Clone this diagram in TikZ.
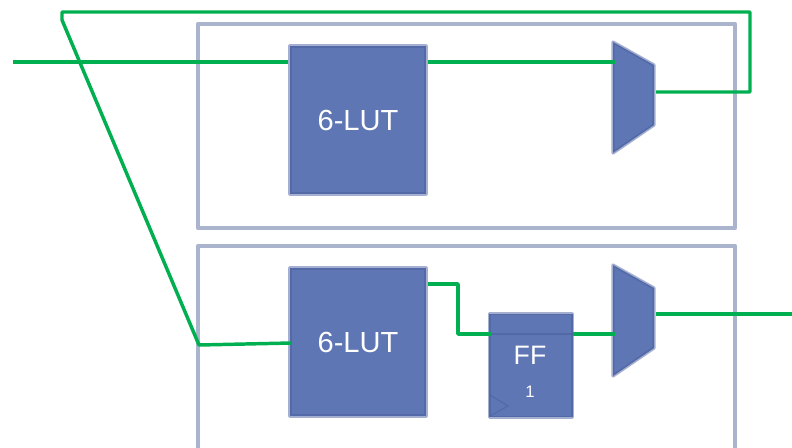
\documentclass[tikz,border=0pt]{standalone}
\usepackage{fontspec}
\setmainfont{Liberation Sans}
\definecolor{frameblue}{HTML}{AAB4CC}
\definecolor{blockfill}{HTML}{5E76B3}
\definecolor{blockedge}{HTML}{4B5F9F}
\definecolor{wire}{HTML}{00B050}
\tikzset{
  frame/.style={draw=frameblue,line width=3.4pt,line join=round},
  block/.style={fill=blockfill,draw=blockedge,draw opacity=.5,line width=2.4pt,line join=round},
  lutbox/.style={block,rectangle,minimum width=102pt,minimum height=111pt,inner sep=0pt,text=white,font=\fontsize{21.8pt}{24pt}\selectfont},
  ffbox/.style={block,rectangle,minimum width=62.5pt,minimum height=77.5pt,inner sep=0pt},
  wireline/.style={draw=wire,line width=2.6pt,line join=round},
  trace/.style={draw=blockedge,draw opacity=.6,line width=.8pt}
}
\begin{document}
\begin{tikzpicture}[x=.75pt,y=-.75pt]
\useasboundingbox (0,0) rectangle (792,447);
% outer frames
\draw[frame] (198,24) rectangle (735,228);
\draw[frame] (198,460) -- (198,246) -- (735,246) -- (735,460);
% blocks
\node[lutbox] (lutA) at (358,120) {6-LUT};
\node[lutbox] (lutB) at (358,342) {6-LUT};
\node[ffbox] (ff) at (531,365.5) {};
\node[text=white,font=\fontsize{20pt}{22pt}\selectfont] (fflabel) at (530,355) {FF};
\node[text=white,font=\fontsize{12.5pt}{14pt}\selectfont] (ffnum) at (530,392) {1};
% clock triangle
\coordinate (clkA) at (490,395);
\coordinate (clkB) at (508,406);
\coordinate (clkC) at (490,416);
\draw[trace] (clkA) -- (clkB) -- (clkC);
% muxes
\coordinate (muxAtl) at (613,42);
\coordinate (muxAtr) at (654,65);
\coordinate (muxAbr) at (654,125);
\coordinate (muxAbl) at (613,153);
\coordinate (muxBtl) at (613,265);
\coordinate (muxBtr) at (654,288);
\coordinate (muxBbr) at (654,348);
\coordinate (muxBbl) at (613,376);
\draw[block] (muxAtl) -- (muxAtr) -- (muxAbr) -- (muxAbl) -- cycle;
\draw[block] (muxBtl) -- (muxBtr) -- (muxBbr) -- (muxBbl) -- cycle;
% wire junctions
\coordinate (inA) at (13,62);
\coordinate (muxAin) at (615,62);
\coordinate (muxAout) at (656,92);
\coordinate (fbA) at (750,92);
\coordinate (fbB) at (750,12);
\coordinate (fbC) at (62,12);
\coordinate (fbD) at (62,20);
\coordinate (fbE) at (199,345);
\coordinate (lutBin) at (291,343);
\coordinate (lutAout) at (428,62);
\coordinate (lutBout) at (428,284);
\coordinate (kneeA) at (458,284);
\coordinate (kneeB) at (458,334);
\coordinate (ffin) at (491,334);
\coordinate (ffout) at (573,334);
\coordinate (muxBin) at (615,334);
\coordinate (muxBout) at (656,314);
\coordinate (outB) at (792,314);
% wires
\draw[wireline] (inA) -- (inA -| lutA.west);
\draw[wireline] (lutAout) -- (muxAin);
\draw[wireline] (muxAout) -- (fbA) -- (fbB) -- (fbC) -- (fbD) -- (fbE) -- (lutBin);
\draw[wireline] (lutBout) -- (kneeA) -- (kneeB) -- (ffin);
\draw[wireline] (ffout) -- (muxBin);
\draw[wireline] (muxBout) -- (outB);
\draw[trace] (ffin) -- (ffout);
\end{tikzpicture}
\end{document}
